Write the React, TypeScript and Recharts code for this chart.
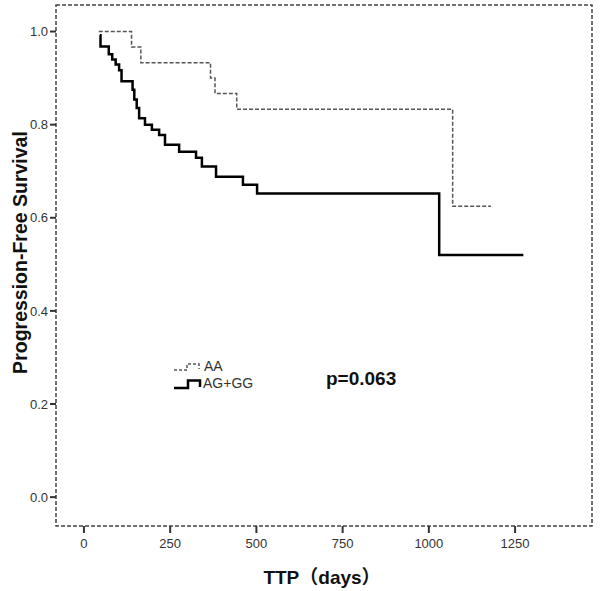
import React from 'react';
import { LineChart, Line, XAxis, YAxis, Legend, Customized, ReferenceArea } from 'recharts';

// Kaplan-Meier step data (time in days, survival proportion)
const aaTimes = [43, 138, 165, 367, 380, 443, 1069, 1180];
const aaSurvival = [1.0, 0.967, 0.933, 0.9, 0.867, 0.833, 0.625, 0.625];

const agTimes = [46, 48, 72, 82, 92, 102, 109, 141, 146, 153, 160, 177, 197, 218, 235, 276, 325, 342, 383, 461, 502, 1030, 1274];
const agSurvival = [0.992, 0.968, 0.951, 0.94, 0.929, 0.917, 0.893, 0.875, 0.854, 0.836, 0.814, 0.8, 0.789, 0.778, 0.757, 0.742, 0.729, 0.71, 0.688, 0.671, 0.652, 0.52, 0.52];

const xTicks = [0, 250, 500, 750, 1000, 1250];
const yTicks = [0, 0.2, 0.4, 0.6, 0.8, 1.0];
const xDomain = [-81, 1473];
const yDomain = [-0.062, 1.057];

const seriesNames = ['AA', 'AG+GG'];
const pValueText = 'p=0.063';
const xTitle = 'TTP（days）';
const yTitle = 'Progression-Free Survival';

const aaData = aaTimes.map((t, i) => ({ t, s: aaSurvival[i] }));
const agData = agTimes.map((t, i) => ({ t, s: agSurvival[i] }));

const FONT = '"Liberation Sans", Arial, "Noto Sans CJK SC", sans-serif';
const tickLineStyle = { stroke: '#333', strokeWidth: 2 };
const tickStyle = { fill: '#333', fontSize: 13, fontFamily: FONT };

const LegendContent = () => (
  <div style={{ fontFamily: FONT, fontSize: 14, color: '#333' }}>
    <div style={{ display: 'flex', alignItems: 'center', height: 17 }}>
      <svg width={30} height={14} style={{ display: 'block' }}>
        <path d="M0,10 H13 V4 H25 V9" fill="none" stroke="#555" strokeWidth={1.5} strokeDasharray="3 2" />
      </svg>
      <span style={{ lineHeight: '17px' }}>{seriesNames[0]}</span>
    </div>
    <div style={{ display: 'flex', alignItems: 'center', height: 17 }}>
      <svg width={29} height={14} style={{ display: 'block' }}>
        <path d="M0,11 H14 V3.5 H26 V10" fill="none" stroke="#000" strokeWidth={2.5} />
      </svg>
      <span style={{ lineHeight: '17px' }}>{seriesNames[1]}</span>
    </div>
  </div>
);

const PValue = () => (
  <text x={326} y={385} fontFamily={FONT} fontSize={19} fontWeight="bold" fill="#111">
    {pValueText}
  </text>
);

export default function App() {
  return (
    <div style={{ position: 'absolute', left: 0, top: 0, width: 600, height: 591, background: '#fff' }}>
      <LineChart width={600} height={591} margin={{ top: 5, right: 8, bottom: 0, left: 0 }}>
        <XAxis
          dataKey="t"
          type="number"
          domain={xDomain}
          ticks={xTicks}
          allowDataOverflow
          height={65}
          axisLine={false}
          tickLine={tickLineStyle}
          tickSize={7}
          tickMargin={6}
          tick={tickStyle}
          label={{ value: xTitle, position: 'center', dy: 19, dx: -2, style: { fontFamily: FONT, fontSize: 19, fontWeight: 'bold', fill: '#111' } }}
        />
        <YAxis
          type="number"
          domain={yDomain}
          ticks={yTicks}
          allowDataOverflow
          width={56}
          axisLine={false}
          tickLine={tickLineStyle}
          tickSize={6}
          tickMargin={2}
          tick={tickStyle}
          tickFormatter={(v: number) => v.toFixed(1)}
          label={{ value: yTitle, angle: -90, position: 'center', dx: -8, dy: -13, style: { fontFamily: FONT, fontSize: 19.5, fontWeight: 'bold', fill: '#111', textAnchor: 'middle' } }}
        />
        <ReferenceArea
          x1={xDomain[0]}
          x2={xDomain[1]}
          y1={yDomain[0]}
          y2={yDomain[1]}
          fill="none"
          fillOpacity={0}
          stroke="#444"
          strokeWidth={1.5}
          strokeDasharray="4 2"
          ifOverflow="visible"
        />
        <Line
          name={seriesNames[0]}
          data={aaData}
          dataKey="s"
          type="stepAfter"
          stroke="#555"
          strokeWidth={1.5}
          strokeDasharray="4 2"
          dot={false}
          isAnimationActive={false}
        />
        <Line
          name={seriesNames[1]}
          data={agData}
          dataKey="s"
          type="stepAfter"
          stroke="#000"
          strokeWidth={2.5}
          dot={false}
          isAnimationActive={false}
        />
        <Legend
          layout="horizontal"
          verticalAlign="middle"
          align="center"
          content={LegendContent}
          wrapperStyle={{ position: 'absolute', left: 174, top: 358, width: 'auto' }}
        />
        <Customized component={PValue} />
      </LineChart>
    </div>
  );
}
